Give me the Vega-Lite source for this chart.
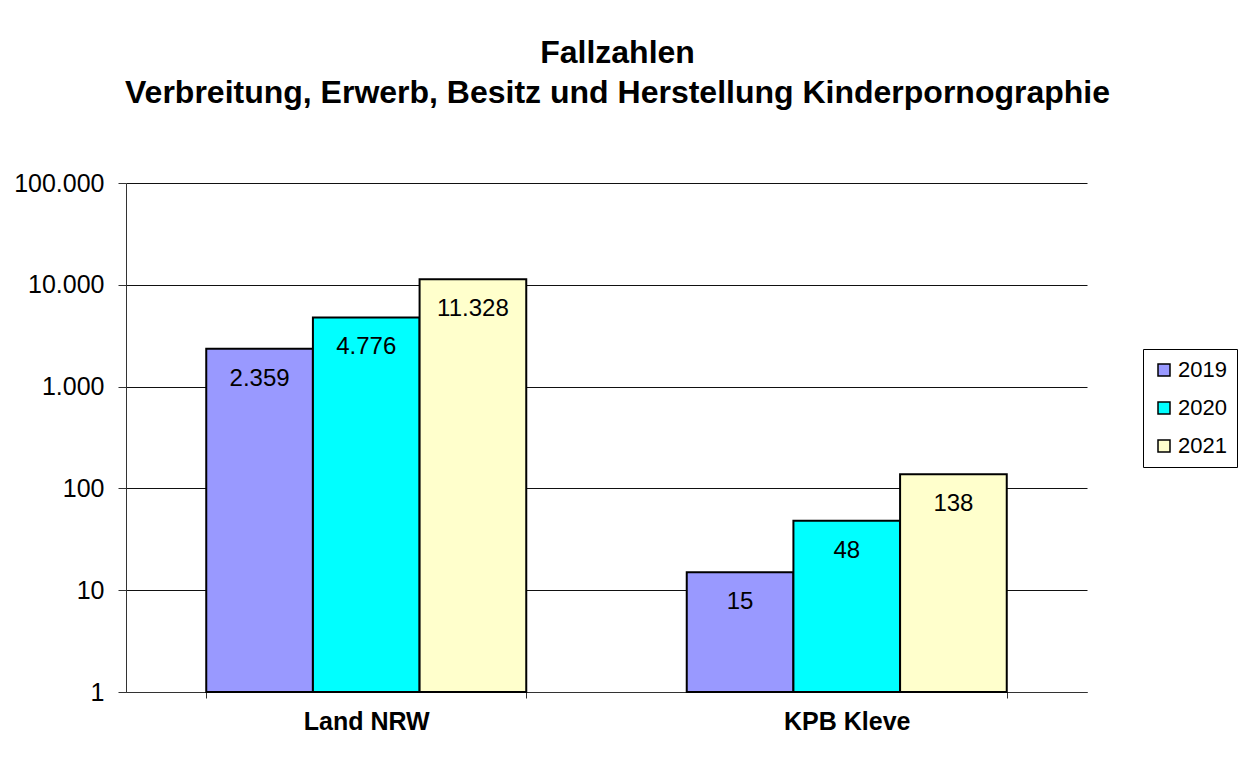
{
  "$schema": "https://vega.github.io/schema/vega-lite/v6.json",
  "width": 961,
  "height": 509,
  "autosize": {"type": "none"},
  "padding": {"left": 126, "top": 183, "right": 173, "bottom": 80},
  "background": "white",
  "title": {
    "text": ["Fallzahlen", "Verbreitung, Erwerb, Besitz und Herstellung Kinderpornographie"],
    "font": "Liberation Sans",
    "fontSize": 32,
    "fontWeight": "bold",
    "color": "black",
    "lineHeight": 40,
    "anchor": "middle",
    "dx": 11,
    "offset": 61
  },
  "data": {
    "values": [
      {"region": "Land NRW", "jahr": "2019", "faelle": 2359},
      {"region": "Land NRW", "jahr": "2020", "faelle": 4776},
      {"region": "Land NRW", "jahr": "2021", "faelle": 11328},
      {"region": "KPB Kleve", "jahr": "2019", "faelle": 15},
      {"region": "KPB Kleve", "jahr": "2020", "faelle": 48},
      {"region": "KPB Kleve", "jahr": "2021", "faelle": 138}
    ]
  },
  "encoding": {
    "x": {
      "field": "region",
      "type": "nominal",
      "sort": ["Land NRW", "KPB Kleve"],
      "scale": {"paddingInner": 0.334, "paddingOuter": 0.167},
      "axis": {
        "title": null,
        "labelAngle": 0,
        "labelFont": "Liberation Sans",
        "labelFontSize": 25,
        "labelFontWeight": "bold",
        "labelColor": "black",
        "labelPadding": 11,
        "tickBand": "extent",
        "tickSize": 6,
        "tickColor": "#333333",
        "domainColor": "#333333",
        "grid": false
      }
    },
    "xOffset": {"field": "jahr", "type": "nominal", "scale": {"paddingInner": 0, "paddingOuter": 0}}
  },
  "layer": [
    {
      "mark": {"type": "bar", "stroke": "black", "strokeWidth": 2},
      "encoding": {
        "y": {
          "field": "faelle",
          "type": "quantitative",
          "scale": {"type": "log", "domain": [1, 100000], "nice": false},
          "axis": {
            "title": null,
            "values": [1, 10, 100, 1000, 10000, 100000],
            "format": ",d",
            "labelFont": "Liberation Sans",
            "labelFontSize": 25,
            "labelColor": "black",
            "labelPadding": 14,
            "tickSize": 8,
            "tickColor": "#333333",
            "domainColor": "#333333",
            "grid": true,
            "gridColor": "#111111",
            "gridWidth": 1,
            "gridOpacity": 1
          }
        },
        "y2": {"datum": 1},
        "color": {
          "field": "jahr",
          "type": "nominal",
          "scale": {"domain": ["2019", "2020", "2021"], "range": ["#9999FF", "#00FFFF", "#FFFFCC"]},
          "legend": {
            "title": null,
            "orient": "none",
            "legendX": 1017,
            "legendY": 166,
            "symbolType": "square",
            "symbolSize": 144,
            "symbolStrokeColor": "black",
            "symbolStrokeWidth": 1.5,
            "symbolOpacity": 1,
            "labelFont": "Liberation Sans",
            "labelFontSize": 22,
            "labelColor": "black",
            "labelOffset": 3,
            "rowPadding": 16,
            "padding": 10,
            "strokeColor": "black",
            "fillColor": "white",
            "cornerRadius": 0
          }
        }
      }
    },
    {
      "mark": {"type": "text", "font": "Liberation Sans", "fontSize": 24, "color": "black", "baseline": "middle", "dy": 30},
      "encoding": {
        "y": {"field": "faelle", "type": "quantitative"},
        "text": {"field": "faelle", "type": "quantitative", "format": ",d"}
      }
    }
  ],
  "config": {
    "view": {"stroke": null},
    "locale": {
      "number": {"decimal": ",", "thousands": ".", "grouping": [3], "currency": ["", " €"]}
    }
  }
}
